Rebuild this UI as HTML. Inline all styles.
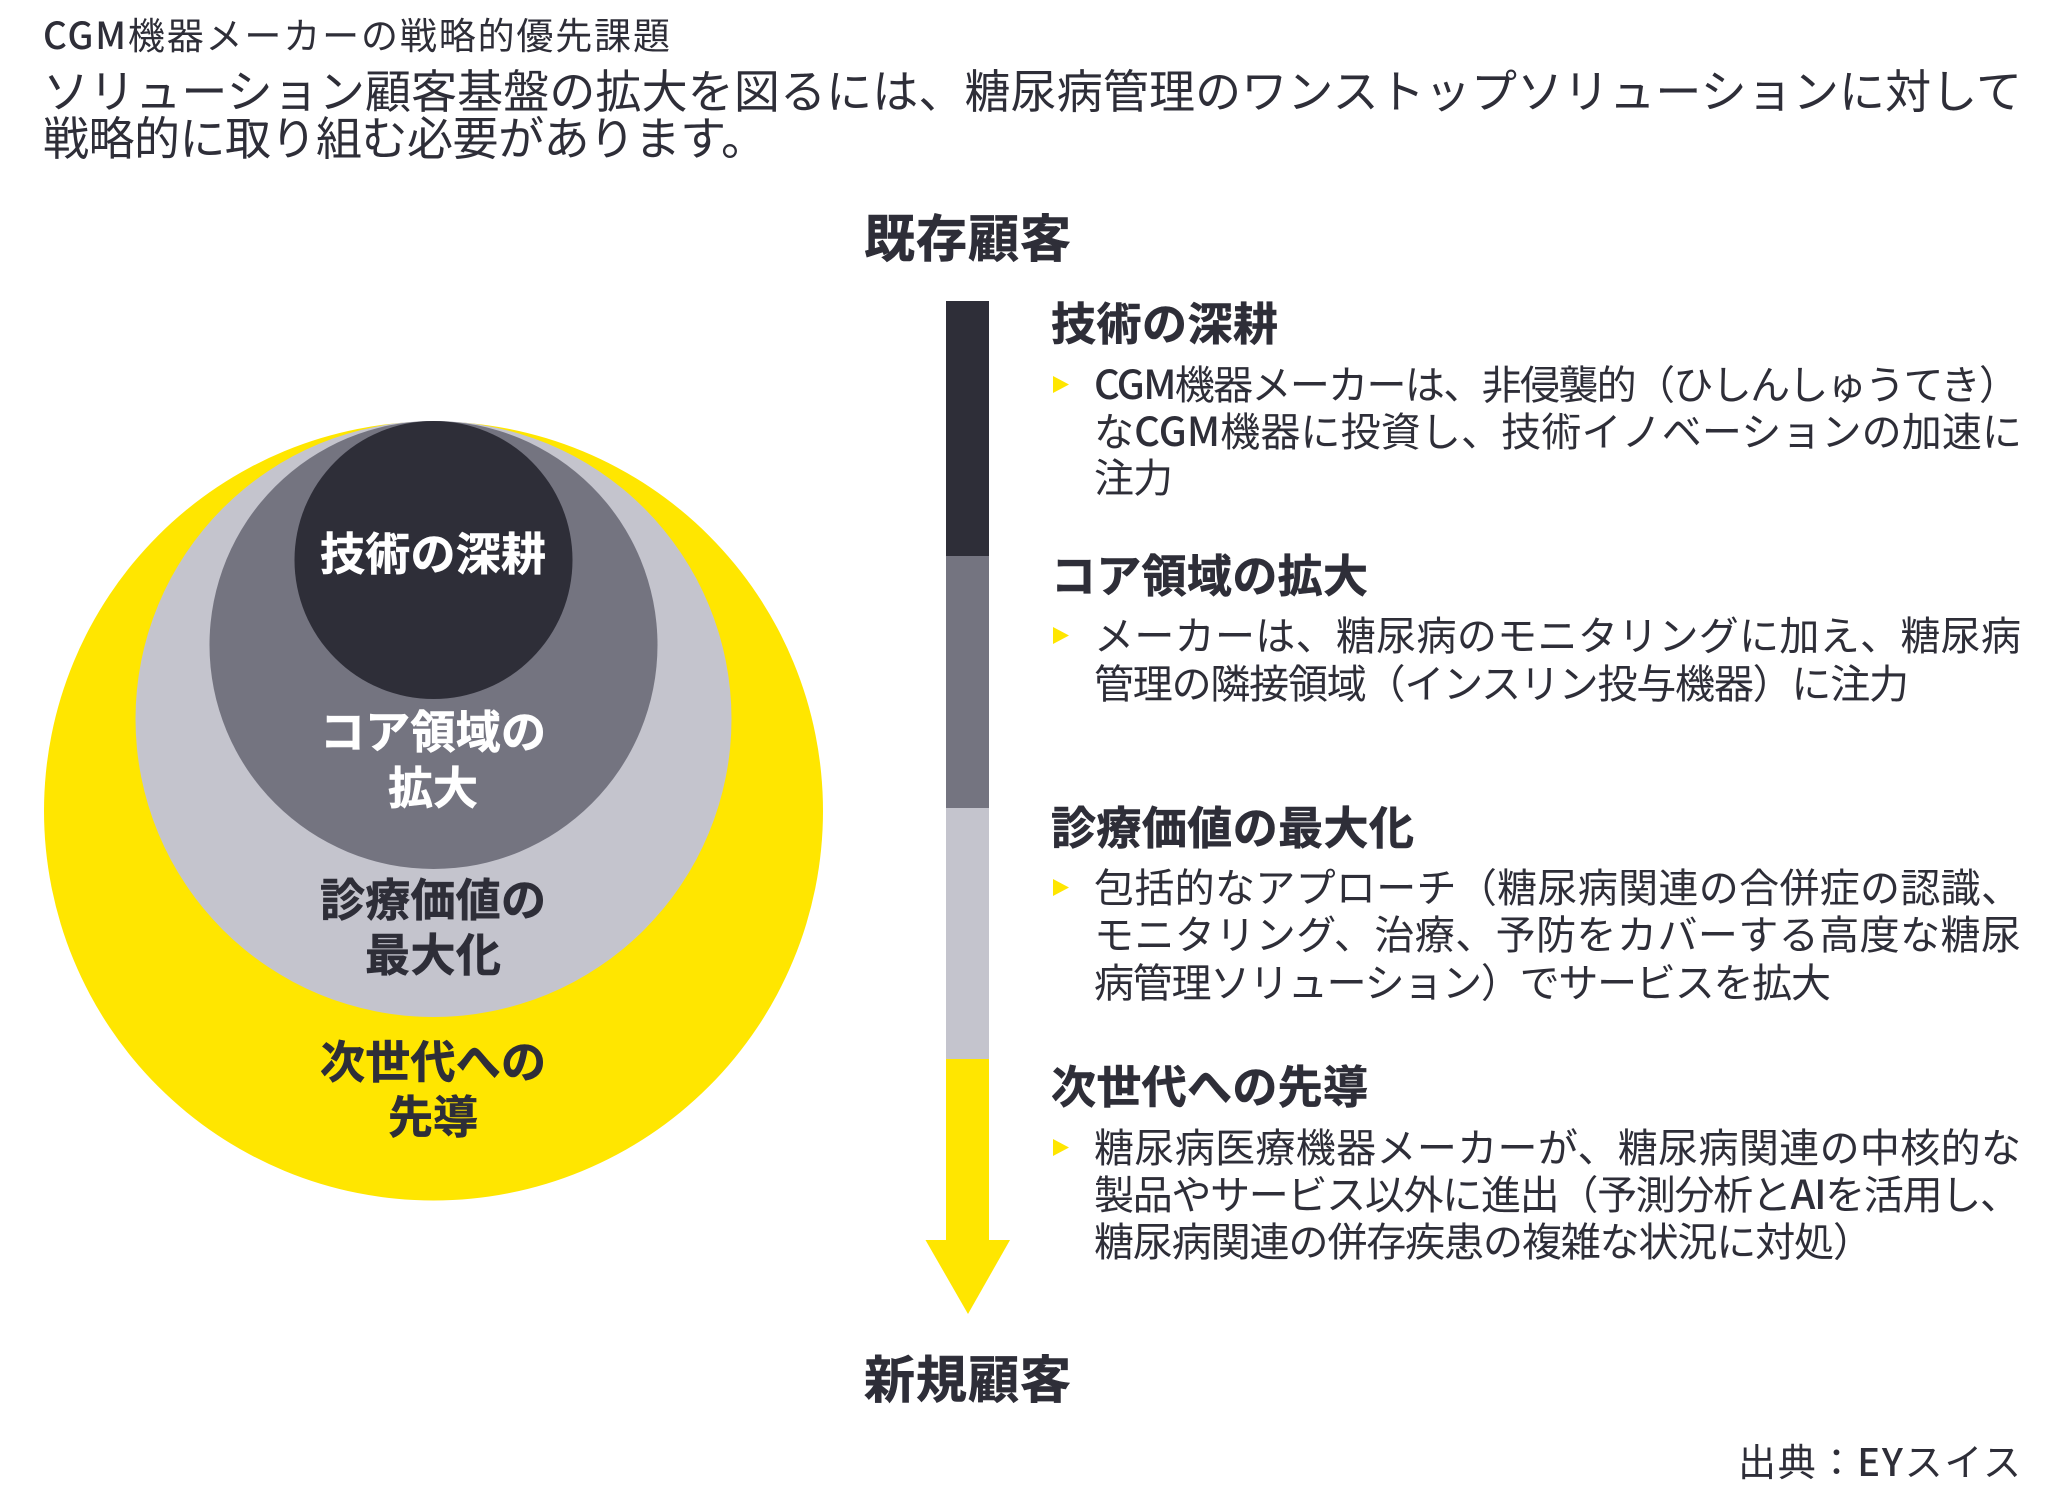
<!DOCTYPE html>
<html lang="ja"><head><meta charset="utf-8"><style>
html,body{margin:0;padding:0;background:#fff}
svg{display:block}
text{font-family:"Noto Sans CJK JP","Liberation Sans",sans-serif;fill:#2e2e38}
tspan{font-weight:500}
.t{font-size:46px;font-weight:400}
.p{font-size:40px;font-weight:400}
.h{font-size:45px;font-weight:700;stroke:#2e2e38;stroke-width:.6px}
.c{font-size:45px;font-weight:700;stroke:#2e2e38;stroke-width:.6px}
.w{fill:#fff;stroke:#fff}
.m{font-size:51px;font-weight:700;stroke:#2e2e38;stroke-width:.6px}
</style></head><body>
<svg width="2048" height="1512" viewBox="0 0 2048 1512" xmlns="http://www.w3.org/2000/svg">
<rect width="2048" height="1512" fill="#fff"/>
<text x="43" y="49" style="font-size:37px;font-weight:400" textLength="627"><tspan>CGM</tspan>機器メーカーの戦略的優先課題</text>
<text x="43" y="108" class="t" textLength="1979">ソリューション顧客基盤の拡大を図るには、糖尿病管理のワンストップソリューションに対して</text>
<text x="43" y="155" class="t" textLength="724">戦略的に取り組む必要があります。</text>

<circle cx="433.5" cy="811" r="389.5" fill="#ffe600"/>
<circle cx="433.5" cy="719" r="298" fill="#c4c4cd"/>
<circle cx="433.5" cy="645" r="224" fill="#747480"/>
<circle cx="433.5" cy="560" r="139" fill="#2e2e38"/>

<text x="320" y="570" class="c w" textLength="226">技術の深耕</text>
<text x="320" y="748" class="c w" textLength="226">コア領域の</text>
<text x="388" y="804" class="c w" textLength="90">拡大</text>
<text x="320" y="916" class="c" textLength="226">診療価値の</text>
<text x="365" y="971" class="c" textLength="136">最大化</text>
<text x="320" y="1078" class="c" textLength="226">次世代への</text>
<text x="388" y="1133" class="c" textLength="90">先導</text>

<text x="864" y="257" class="m" textLength="207">既存顧客</text>
<text x="864" y="1398" class="m" textLength="207">新規顧客</text>

<rect x="946" y="301" width="43" height="255" fill="#2e2e38"/>
<rect x="946" y="556" width="43" height="252" fill="#747480"/>
<rect x="946" y="808" width="43" height="252" fill="#c4c4cd"/>
<rect x="946" y="1059" width="43" height="182" fill="#ffe600"/>
<polygon points="925.5,1240 1010,1240 968,1314" fill="#ffe600"/>

<text x="1051" y="340" class="h" textLength="227">技術の深耕</text>
<polygon points="1053,376 1069,384.5 1053,393" fill="#ffe600"/>
<text x="1094" y="399" class="p" textLength="925"><tspan>CGM</tspan>機器メーカーは、非侵襲的（ひしんしゅうてき）</text>
<text x="1094" y="446" class="p" textLength="928">な<tspan>CGM</tspan>機器に投資し、技術イノベーションの加速に</text>
<text x="1094" y="492" class="p" textLength="79">注力</text>

<text x="1051" y="592" class="h" textLength="317">コア領域の拡大</text>
<polygon points="1053,627 1069,635.5 1053,644" fill="#ffe600"/>
<text x="1094" y="650" class="p" textLength="927">メーカーは、糖尿病のモニタリングに加え、糖尿病</text>
<text x="1094" y="698" class="p" textLength="815">管理の隣接領域（インスリン投与機器）に注力</text>

<text x="1051" y="844" class="h" textLength="363">診療価値の最大化</text>
<polygon points="1053,879 1069,887.5 1053,896" fill="#ffe600"/>
<text x="1094" y="902" class="p" textLength="927">包括的なアプローチ（糖尿病関連の合併症の認識、</text>
<text x="1094" y="949" class="p" textLength="927">モニタリング、治療、予防をカバーする高度な糖尿</text>
<text x="1094" y="997" class="p" textLength="737">病管理ソリューション）でサービスを拡大</text>

<text x="1051" y="1103" class="h" textLength="317">次世代への先導</text>
<polygon points="1053,1139 1069,1147.5 1053,1156" fill="#ffe600"/>
<text x="1094" y="1162" class="p" textLength="927">糖尿病医療機器メーカーが、糖尿病関連の中核的な</text>
<text x="1094" y="1209" class="p" textLength="926">製品やサービス以外に進出（予測分析と<tspan>AI</tspan>を活用し、</text>
<text x="1094" y="1256" class="p" textLength="779">糖尿病関連の併存疾患の複雑な状況に対処）</text>

<text x="1738" y="1476" style="font-size:38px;font-weight:400" textLength="283">出典：<tspan>EY</tspan>スイス</text>
</svg>
</body></html>
